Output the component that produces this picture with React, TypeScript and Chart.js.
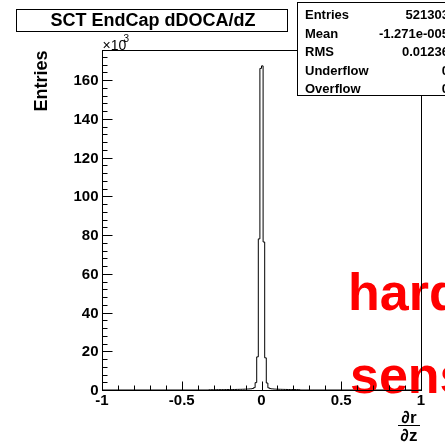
import React, { useEffect, useRef } from 'react';
import { Chart, registerables } from 'chart.js';

Chart.register(...registerables);

// ---- data ----
const title = 'SCT EndCap dDOCA/dZ';
const xMin = -1;
const xMax = 1;
const binWidth = 0.01;
const firstBinLow = -0.33; // lower edge of first listed bin; all other bins are empty
const binCounts = [
  120, 130, 140,
  150, 160, 170, 180, 190, 200, 210, 220, 230, 240,
  250, 260, 270, 280, 300, 320, 340, 360, 390, 420,
  460, 500, 550, 620, 750, 1200, 3800, 17100, 78000, 166000,
  167300, 76400, 16600, 3600, 1100, 720, 600, 530, 470, 430,
  400, 370, 340, 320, 300, 280, 260, 250, 240, 230,
  220, 210, 200, 190,
];
const yMax = 175500;
const xMajorTicks = [-1, -0.5, 0, 0.5, 1];
const xTickLabels = ['-1', '-0.5', '0', '0.5', '1'];
const xMinorStep = 0.1;
const yMajorTicks = [0, 20000, 40000, 60000, 80000, 100000, 120000, 140000, 160000];
const yTickLabels = ['0', '20', '40', '60', '80', '100', '120', '140', '160'];
const yMinorStep = 4000;
const statsLabels = ['Entries', 'Mean', 'RMS', 'Underflow', 'Overflow'];
const statsValues = ['521303', '-1.271e-005', '0.01236', '0', '0'];
const yTitle = 'Entries';
const watermark = ['hard', 'sens'];

const FONT = '"Liberation Sans", Arial, Helvetica, sans-serif';

const rootPlugin = {
  id: 'rootStyle',
  beforeDraw(chart: any) {
    const ctx = chart.ctx;
    ctx.save();
    ctx.fillStyle = '#ffffff';
    ctx.fillRect(0, 0, chart.width, chart.height);
    ctx.restore();
  },
  afterDraw(chart: any) {
    const { ctx, chartArea: a, scales } = chart;
    const xs = scales.x;
    const ys = scales.y;
    const L = Math.round(a.left) + 0.5;
    const R = Math.round(a.right) + 0.5;
    const T = Math.round(a.top) + 0.5;
    const B = Math.round(a.bottom) + 0.5;
    ctx.save();

    // red watermark text
    ctx.fillStyle = '#ff0000';
    ctx.font = `bold 52px ${FONT}`;
    ctx.textAlign = 'left';
    ctx.textBaseline = 'alphabetic';
    ctx.fillText(watermark[0], 348, 310);
    ctx.fillText(watermark[1], 350, 393);

    // frame
    ctx.strokeStyle = '#000';
    ctx.lineWidth = 1;
    ctx.strokeRect(L, T, R - L, B - T);

    // x ticks (inside, upward)
    ctx.beginPath();
    for (let v = xMin; v <= xMax + 1e-9; v += xMinorStep) {
      const px = Math.round(xs.getPixelForValue(v)) + 0.5;
      const isMajor = xMajorTicks.some((m) => Math.abs(m - v) < 1e-6);
      ctx.moveTo(px, B);
      ctx.lineTo(px, B - (isMajor ? 9 : 5));
    }
    // y ticks (inside, rightward)
    for (let v = 0; v <= yMax + 1e-9; v += yMinorStep) {
      const py = Math.round(ys.getPixelForValue(v)) + 0.5;
      const isMajor = yMajorTicks.some((m) => Math.abs(m - v) < 1e-6);
      ctx.moveTo(L, py);
      ctx.lineTo(L + (isMajor ? 10 : 5), py);
    }
    ctx.stroke();

    // tick labels
    ctx.fillStyle = '#000';
    ctx.font = `bold 15px ${FONT}`;
    ctx.textAlign = 'center';
    ctx.textBaseline = 'top';
    xMajorTicks.forEach((v, i) => {
      ctx.fillText(xTickLabels[i], xs.getPixelForValue(v), B + 3);
    });
    ctx.textAlign = 'right';
    ctx.textBaseline = 'middle';
    yMajorTicks.forEach((v, i) => {
      ctx.fillText(yTickLabels[i], L - 4, ys.getPixelForValue(v) + 1);
    });

    // x10^3
    ctx.font = `14px ${FONT}`;
    ctx.textAlign = 'left';
    ctx.textBaseline = 'alphabetic';
    ctx.fillText('\u00d710', L, T - 1);
    ctx.font = `10px ${FONT}`;
    ctx.fillText('3', L + 21, T - 9);

    // y title
    ctx.save();
    ctx.translate(47, T);
    ctx.rotate(-Math.PI / 2);
    ctx.font = `bold 18px ${FONT}`;
    ctx.textAlign = 'right';
    ctx.textBaseline = 'alphabetic';
    ctx.fillText(yTitle, 0, 0);
    ctx.restore();

    // x title: fraction d r / d z
    ctx.font = `bold 17px ${FONT}`;
    ctx.textAlign = 'center';
    ctx.textBaseline = 'alphabetic';
    const fx = 409;
    ctx.fillText('\u2202r', fx, 423);
    ctx.fillText('\u2202z', fx, 441);
    ctx.beginPath();
    ctx.moveTo(fx - 11, 425.5);
    ctx.lineTo(fx + 11, 425.5);
    ctx.stroke();

    // title box
    ctx.fillStyle = '#fff';
    ctx.fillRect(16, 9, 271, 22);
    ctx.strokeRect(16.5, 9.5, 271, 22);
    ctx.fillStyle = '#000';
    ctx.font = `bold 18px ${FONT}`;
    ctx.textAlign = 'center';
    ctx.textBaseline = 'middle';
    ctx.fillText(title, 153, 21);

    // stats box
    ctx.fillStyle = '#fff';
    ctx.fillRect(297, 2, 160, 93);
    ctx.strokeRect(297.5, 2.5, 160, 93);
    ctx.fillStyle = '#000';
    ctx.font = `bold 13px ${FONT}`;
    ctx.textBaseline = 'middle';
    const rowY = [15, 34, 52, 71, 89];
    statsLabels.forEach((lab, i) => {
      ctx.textAlign = 'left';
      ctx.fillText(lab, 305, rowY[i]);
      ctx.textAlign = 'right';
      ctx.fillText(statsValues[i], 449, rowY[i]);
    });

    ctx.restore();
  },
};

export default function App() {
  const ref = useRef<HTMLCanvasElement>(null);
  useEffect(() => {
    document.body.style.margin = '0';
    const points: { x: number; y: number }[] = [{ x: xMin, y: 0 }];
    binCounts.forEach((c, i) => {
      points.push({ x: firstBinLow + i * binWidth, y: c });
    });
    points.push({ x: firstBinLow + binCounts.length * binWidth, y: 0 });
    points.push({ x: xMax, y: 0 });

    const chart = new Chart(ref.current as HTMLCanvasElement, {
      type: 'line',
      data: {
        datasets: [
          {
            data: points,
            borderColor: '#000',
            borderWidth: 1,
            pointRadius: 0,
            stepped: 'before',
            fill: false,
          },
        ],
      },
      options: {
        animation: false,
        responsive: false,
        devicePixelRatio: 1,
        events: [],
        layout: { padding: { left: 102, right: 24, top: 50, bottom: 53 } },
        plugins: { legend: { display: false }, tooltip: { enabled: false }, title: { display: false } },
        scales: {
          x: { type: 'linear', min: xMin, max: xMax, display: false },
          y: { type: 'linear', min: 0, max: yMax, display: false },
        },
      },
      plugins: [rootPlugin],
    } as any);
    return () => chart.destroy();
  }, []);
  return <canvas ref={ref} width={445} height={443} style={{ display: 'block' }} />;
}
